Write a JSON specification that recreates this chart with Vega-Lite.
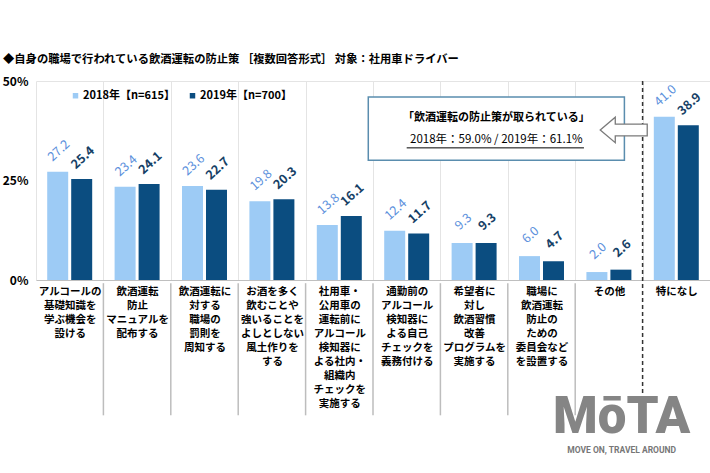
{
  "$schema": "https://vega.github.io/schema/vega-lite/v6.json",
  "width": 674,
  "height": 199,
  "autosize": {"type": "none"},
  "padding": {"left": 36, "top": 81, "right": 0, "bottom": 193},
  "background": "white",
  "config": {
    "view": {"stroke": null},
    "font": "Noto Sans CJK JP",
    "text": {"font": "Noto Sans CJK JP"}
  },
  "title": {
    "text": "◆自身の職場で行われている飲酒運転の防止策 ［複数回答形式］ 対象：社用車ドライバー",
    "anchor": "start",
    "frame": "group",
    "dx": -33,
    "offset": 10,
    "fontSize": 11.3,
    "fontWeight": "bold",
    "color": "#000000",
    "font": "Noto Sans CJK JP"
  },
  "datasets": {
    "main": [
      {"i": 1, "cat": "アルコールの|基礎知識を|学ぶ機会を|設ける", "year": "2018年【n=615】", "value": 27.2},
      {"i": 1, "cat": "アルコールの|基礎知識を|学ぶ機会を|設ける", "year": "2019年【n=700】", "value": 25.4},
      {"i": 2, "cat": "飲酒運転|防止|マニュアルを|配布する", "year": "2018年【n=615】", "value": 23.4},
      {"i": 2, "cat": "飲酒運転|防止|マニュアルを|配布する", "year": "2019年【n=700】", "value": 24.1},
      {"i": 3, "cat": "飲酒運転に|対する|職場の|罰則を|周知する", "year": "2018年【n=615】", "value": 23.6},
      {"i": 3, "cat": "飲酒運転に|対する|職場の|罰則を|周知する", "year": "2019年【n=700】", "value": 22.7},
      {"i": 4, "cat": "お酒を多く|飲むことや|強いることを|よしとしない|風土作りを|する", "year": "2018年【n=615】", "value": 19.8},
      {"i": 4, "cat": "お酒を多く|飲むことや|強いることを|よしとしない|風土作りを|する", "year": "2019年【n=700】", "value": 20.3},
      {"i": 5, "cat": "社用車・|公用車の|運転前に|アルコール|検知器に|よる社内・|組織内|チェックを|実施する", "year": "2018年【n=615】", "value": 13.8},
      {"i": 5, "cat": "社用車・|公用車の|運転前に|アルコール|検知器に|よる社内・|組織内|チェックを|実施する", "year": "2019年【n=700】", "value": 16.1},
      {"i": 6, "cat": "通勤前の|アルコール|検知器に|よる自己|チェックを|義務付ける", "year": "2018年【n=615】", "value": 12.4},
      {"i": 6, "cat": "通勤前の|アルコール|検知器に|よる自己|チェックを|義務付ける", "year": "2019年【n=700】", "value": 11.7},
      {"i": 7, "cat": "希望者に|対し|飲酒習慣|改善|プログラムを|実施する", "year": "2018年【n=615】", "value": 9.3},
      {"i": 7, "cat": "希望者に|対し|飲酒習慣|改善|プログラムを|実施する", "year": "2019年【n=700】", "value": 9.3},
      {"i": 8, "cat": "職場に|飲酒運転|防止の|ための|委員会など|を設置する", "year": "2018年【n=615】", "value": 6.0},
      {"i": 8, "cat": "職場に|飲酒運転|防止の|ための|委員会など|を設置する", "year": "2019年【n=700】", "value": 4.7},
      {"i": 9, "cat": "その他", "year": "2018年【n=615】", "value": 2.0},
      {"i": 9, "cat": "その他", "year": "2019年【n=700】", "value": 2.6},
      {"i": 10, "cat": "特になし", "year": "2018年【n=615】", "value": 41.0},
      {"i": 10, "cat": "特になし", "year": "2019年【n=700】", "value": 38.9}
    ],
    "notes": [
      {"kind": "box", "x": 4.93, "x2": 8.73, "y": 46.0, "y2": 30.1},
      {"kind": "line1", "x": 6.83, "y": 40.6, "text": "「飲酒運転の防止策が取られている」"},
      {"kind": "line2", "x": 6.83, "y": 35.1, "text": "2018年：59.0% / 2019年：61.1%"},
      {"kind": "underline", "x": 5.5, "x2": 8.13, "y": 33.2},
      {"kind": "arrow", "x": 8.72, "y": 37.7},
      {"kind": "logo", "x": 8.69, "y": -38.4, "text": "MōTA"},
      {"kind": "tag", "x": 8.69, "y": -42.6, "text": "MOVE ON, TRAVEL AROUND"}
    ]
  },
  "resolve": {"scale": {"x": "independent"}},
  "layer": [
    {
      "data": {"name": "main"},
      "encoding": {
        "x": {
          "field": "cat", "type": "nominal", "sort": null,
          "scale": {"paddingInner": 0, "paddingOuter": 0},
          "axis": {
            "title": null,
            "labelExpr": "split(datum.label, '|')",
            "labelAngle": 0,
            "labelAlign": "center",
            "labelBaseline": "top",
            "labelPadding": 6,
            "labelLineHeight": 14,
            "labelFontSize": 10.5,
            "labelFontWeight": "bold",
            "labelColor": "#000000",
            "labelFont": "Noto Sans CJK JP",
            "labelLimit": 0,
            "ticks": false,
            "tickBand": "extent",
            "grid": true,
            "gridColor": "#E4E4E4",
            "gridWidth": 1,
            "domainColor": "#BFBFBF",
            "domainWidth": 1
          }
        },
        "y": {
          "field": "value", "type": "quantitative",
          "scale": {"domain": [0, 50], "nice": false},
          "axis": {
            "title": null,
            "values": [0, 25, 50],
            "labelExpr": "datum.value + '%'",
            "labelFontSize": 12,
            "labelFontWeight": "bold",
            "labelColor": "#000000",
            "labelFont": "Noto Sans CJK JP",
            "labelPadding": 8,
            "ticks": false,
            "domain": false,
            "grid": true,
            "gridColor": "#E4E4E4",
            "gridOpacity": {"condition": {"test": "datum.value == 50", "value": 1}, "value": 0}
          }
        },
        "xOffset": {
          "field": "year", "type": "nominal",
          "scale": {"paddingInner": 0.125, "paddingOuter": 0.467}
        }
      },
      "layer": [
        {
          "mark": {"type": "bar"},
          "encoding": {
            "color": {
              "field": "year", "type": "nominal",
              "scale": {"range": ["#9DCBF5", "#0B4D80"]},
              "legend": {
                "title": null,
                "orient": "none",
                "direction": "horizontal",
                "legendX": 34,
                "legendY": 9,
                "symbolType": "square",
                "symbolSize": 30,
                "symbolStrokeWidth": 0,
                "labelFontSize": 11,
                "labelFontWeight": "bold",
                "labelColor": "#000000",
                "labelFont": "Noto Sans CJK JP",
                "labelOffset": 2,
                "columnPadding": 12,
                "labelLimit": 0
              }
            }
          }
        },
        {
          "transform": [{"filter": "datum.year == '2018年【n=615】'"}],
          "mark": {"type": "text", "angle": -42, "align": "center", "baseline": "middle", "dx": 15, "dy": -15, "fontSize": 12.5, "color": "#5B90DC", "font": "Noto Sans CJK JP"},
          "encoding": {
            "text": {"field": "value", "type": "quantitative", "format": ".1f"}
          }
        },
        {
          "transform": [{"filter": "datum.year == '2019年【n=700】'"}],
          "mark": {"type": "text", "angle": -42, "align": "center", "baseline": "middle", "dx": 15, "dy": -15, "fontSize": 12.5, "fontWeight": "bold", "color": "#163F66", "font": "Noto Sans CJK JP"},
          "encoding": {
            "text": {"field": "value", "type": "quantitative", "format": ".1f"}
          }
        },
        {
          "transform": [{"filter": "datum.year == '2018年【n=615】' && datum.i >= 2 && datum.i <= 9"}],
          "mark": {"type": "rule", "color": "#BDBDBD", "strokeWidth": 1.5},
          "encoding": {
            "x": {"field": "cat", "type": "nominal", "sort": null, "bandPosition": 0},
            "xOffset": null,
            "y": {"datum": -0.8},
            "y2": {"datum": -34}
          }
        },
        {
          "transform": [{"filter": "datum.year == '2018年【n=615】' && datum.i == 10"}],
          "mark": {"type": "rule", "color": "#333333", "strokeWidth": 1.5, "strokeDash": [4, 3]},
          "encoding": {
            "x": {"field": "cat", "type": "nominal", "sort": null, "bandPosition": 0},
            "xOffset": null,
            "y": {"datum": 50},
            "y2": {"datum": -35}
          }
        }
      ]
    },
    {
      "data": {"name": "notes"},
      "encoding": {
        "x": {"field": "x", "type": "quantitative", "scale": {"domain": [0, 10], "nice": false, "zero": false}, "axis": null},
        "y": {"field": "y", "type": "quantitative"}
      },
      "layer": [
        {
          "transform": [{"filter": "datum.kind == 'box'"}],
          "mark": {"type": "rect", "fill": "white", "stroke": "#5A8DAE", "strokeWidth": 1.5},
          "encoding": {"x2": {"field": "x2"}, "y2": {"field": "y2"}}
        },
        {
          "transform": [{"filter": "datum.kind == 'line1'"}],
          "mark": {"type": "text", "fontSize": 11, "fontWeight": "bold", "color": "#000000", "font": "Noto Sans CJK JP", "align": "center", "baseline": "middle"},
          "encoding": {"text": {"field": "text"}}
        },
        {
          "transform": [{"filter": "datum.kind == 'line2'"}],
          "mark": {"type": "text", "fontSize": 11.5, "color": "#000000", "font": "Noto Sans CJK JP", "align": "center", "baseline": "middle"},
          "encoding": {"text": {"field": "text"}}
        },
        {
          "transform": [{"filter": "datum.kind == 'underline'"}],
          "mark": {"type": "rule", "color": "#000000", "strokeWidth": 1},
          "encoding": {"x2": {"field": "x2"}}
        },
        {
          "transform": [{"filter": "datum.kind == 'arrow'"}],
          "mark": {
            "type": "point", "filled": true, "fill": "white", "stroke": "#7A7A7A", "strokeWidth": 1.3, "opacity": 1,
            "shape": "M -1 0 L -0.36 -0.54 L -0.36 -0.25 L 1 -0.25 L 1 0.25 L -0.36 0.25 L -0.36 0.54 Z",
            "size": 2209
          },
          "encoding": {}
        },
        {
          "transform": [{"filter": "datum.kind == 'logo'"}],
          "mark": {"type": "text", "fontSize": 51, "fontWeight": 900, "color": "#858585", "font": "Roboto", "align": "center", "baseline": "alphabetic"},
          "encoding": {"text": {"field": "text"}}
        },
        {
          "transform": [{"filter": "datum.kind == 'tag'"}],
          "mark": {"type": "text", "fontSize": 8.5, "fontWeight": "bold", "color": "#777777", "font": "Roboto", "align": "center", "baseline": "middle"},
          "encoding": {"text": {"field": "text"}}
        }
      ]
    }
  ]
}
